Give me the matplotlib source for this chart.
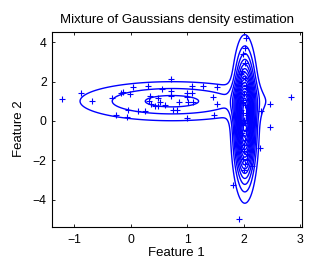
import numpy as np
import matplotlib
matplotlib.use("Agg")
import matplotlib.pyplot as plt

plt.rcParams['font.family'] = ['Liberation Sans', 'DejaVu Sans']

# Mixture model parameters
weights = [0.412, 0.588]
means_x = [0.73, 2.02]
means_y = [1.0, 0.1]
sigma_x = [1.05, 0.11]
sigma_y = [0.64, 1.82]
level_step = 0.0294
n_levels = 16

# Data points
pts_x = [-1.21, -0.88, -0.68, -0.33, -0.18, -0.14, -0.02, 0.04, -0.26, -0.06,
         -0.05, 0.13, 0.26, 0.31, 0.34, 0.33, 0.36, 0.43, 0.49, 0.51,
         0.56, 0.61, 0.71, 0.71, 0.72, 0.75, 0.82, 0.86, 0.99, 0.99,
         1.08, 1.28, 0.99, 1.02, 0.49, 1.10, 1.08, 1.53, 1.45, 1.53, 1.48,
         2.04, 2.03, 1.99, 2.03, 2.31, 2.47, 2.47, 2.28, 2.15, 1.81, 1.92, 2.83,
         1.97, 2.02, 1.95, 2.05, 2.00, 1.98, 2.03, 1.96, 2.06, 2.01,
         1.99, 2.04, 1.97, 2.02, 2.00, 1.95, 2.05, 1.98, 2.03, 2.01,
         1.96, 2.04, 1.99, 2.02, 1.97, 2.00, 2.06, 1.98]
pts_y = [1.12, 1.41, 1.00, 1.17, 1.41, 1.49, 1.37, 1.74, 0.29, 0.19,
         0.54, 0.51, 0.51, 1.78, 1.27, 1.02, 0.86, 0.76, 1.15, 0.98,
         1.61, 0.83, 2.13, 1.54, 1.25, 0.56, 0.56, 0.98, 1.23, 0.17,
         1.78, 1.76, 1.41, 0.98, 0.76, 0.98, 1.41, 1.71, 1.20, 0.85, 0.30,
         4.20, 3.69, 3.40, 2.93, 0.52, 0.85, -0.29, -1.39, -2.30, -3.25, -4.97, 1.23,
         2.55, 2.20, 1.90, 1.60, 1.35, 1.05, 0.80, 0.55, 0.30, 0.05,
         -0.20, -0.45, -0.70, -0.95, -1.20, -1.45, -1.70, -1.95, -2.20, -2.50,
         2.40, 1.75, 0.95, -0.10, -0.60, -1.55, -2.00, 0.40]

xlim = (-1.40, 3.03)
ylim = (-5.37, 4.53)

fig = plt.figure(figsize=(3.09, 2.62), dpi=100)
ax = fig.add_axes([0.167, 0.135, 0.977 - 0.167, 0.879 - 0.135])

gx = np.linspace(xlim[0], xlim[1], 800)
gy = np.linspace(ylim[0], ylim[1], 700)
X, Y = np.meshgrid(gx, gy)
Z = np.zeros_like(X)
for w, mx, my, sx, sy in zip(weights, means_x, means_y, sigma_x, sigma_y):
    Z += w / (2 * np.pi * sx * sy) * np.exp(-0.5 * (((X - mx) / sx) ** 2 + ((Y - my) / sy) ** 2))

levels = level_step * np.arange(1, n_levels + 1)
ax.contour(X, Y, Z, levels=levels, colors='#0000ff', linewidths=1.0)
ax.plot(pts_x, pts_y, '+', color='#0000ff', markersize=5, markeredgewidth=0.8)

ax.set_xlim(xlim)
ax.set_ylim(ylim)
ax.set_xticks([-1, 0, 1, 2, 3])
ax.set_yticks([-4, -2, 0, 2, 4])
ax.tick_params(direction='in', length=2.5, width=0.6, top=True, right=True,
               labelsize=8.8, colors='black')
ax.tick_params(axis='x', pad=5.5)
ax.tick_params(axis='y', pad=3.5)
for s in ax.spines.values():
    s.set_linewidth(0.8)
ax.set_title('Mixture of Gaussians density estimation', fontsize=9.5, pad=6)
ax.set_xlabel('Feature 1', fontsize=9.5, labelpad=0.5)
ax.set_ylabel('Feature 2', fontsize=9.5, labelpad=6)

fig.savefig('out.png', dpi=100)
